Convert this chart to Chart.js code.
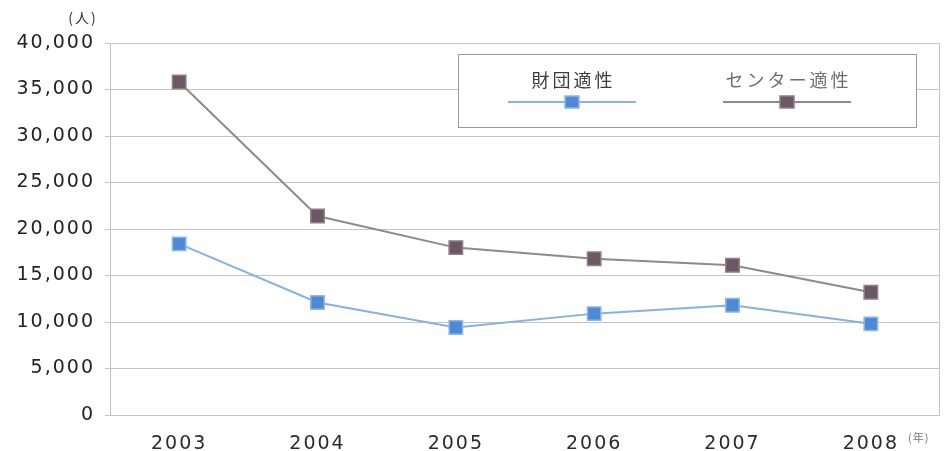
<!DOCTYPE html>
<html>
<head>
<meta charset="utf-8">
<script src="https://cdn.jsdelivr.net/npm/chart.js@4/dist/chart.umd.min.js"></script>
<style>
    body { margin: 0; background: #fff; }
    #chart-wrap { position: relative; width: 945px; height: 451px; }
</style>
</head>
<body>
<div id="chart-wrap">
    <canvas id="trend-chart" width="945" height="451"></canvas>
</div>
<script>
// 年度別の人数推移
const years = ['2003', '2004', '2005', '2006', '2007', '2008'];
const zaidanValues = [18400, 12100, 9400, 10900, 11800, 9800];
const centerValues = [35800, 21400, 18000, 16800, 16100, 13200];
const seriesNames = ['財団適性', 'センター適性'];
const yMax = 40000;
const yStep = 5000;

const BLUE_LINE = '#86b1e0';
const BLUE_MARK = '#4f88d4';
const GRAY_LINE = '#8e8a8c';
const GRAY_MARK = '#6c5865';
const NUM_FONT = "'DejaVu Sans', Verdana, sans-serif";
const JP_FONT = "'Noto Sans CJK JP', sans-serif";

// 横に広い文字組みにするため字間を少し空ける
const spacingPlugin = {
    id: 'spacing',
    beforeDraw(chart) {
        chart.ctx.letterSpacing = '2px';
    },
    afterDraw(chart) {
        chart.ctx.letterSpacing = '0px';
    }
};

function drawMarker(ctx, x, y, fill, stroke) {
    ctx.fillStyle = fill;
    ctx.strokeStyle = stroke;
    ctx.lineWidth = 1.5;
    ctx.fillRect(x - 7, y - 6, 14, 12);
    ctx.strokeRect(x - 7, y - 6, 14, 12);
}

// 枠・凡例・単位
const decorPlugin = {
    id: 'decor',
    beforeDatasetsDraw(chart) {
        const { ctx, chartArea } = chart;
        ctx.save();
        ctx.strokeStyle = '#c4c4c4';
        ctx.lineWidth = 1;
        ctx.strokeRect(chartArea.left + 0.5, chartArea.top + 0.5,
            chartArea.right - chartArea.left - 1, chartArea.bottom - chartArea.top);
        ctx.restore();
    },
    afterDraw(chart) {
        const { ctx, chartArea } = chart;
        ctx.save();

        // 凡例
        const bx = chartArea.right - 482;
        const by = chartArea.top + 11;
        ctx.fillStyle = '#fff';
        ctx.fillRect(bx, by, 458, 73);
        ctx.strokeStyle = '#9a9a9a';
        ctx.lineWidth = 1;
        ctx.strokeRect(bx + 0.5, by + 0.5, 458, 73);

        const entries = [
            { cx: bx + 114, line: BLUE_LINE, fill: BLUE_MARK, stroke: '#8bb8ea', text: '#3c3c3c' },
            { cx: bx + 329, line: GRAY_LINE, fill: GRAY_MARK, stroke: '#8f7f89', text: '#6e6e6e' }
        ];
        ctx.font = '18px ' + JP_FONT;
        ctx.textAlign = 'center';
        ctx.textBaseline = 'middle';
        ctx.letterSpacing = '3px';
        entries.forEach((e, i) => {
            ctx.fillStyle = e.text;
            ctx.fillText(seriesNames[i], e.cx + 1.5, by + 26);
            ctx.strokeStyle = e.line;
            ctx.lineWidth = 2;
            ctx.beginPath();
            ctx.moveTo(e.cx - 64, by + 48);
            ctx.lineTo(e.cx + 64, by + 48);
            ctx.stroke();
            drawMarker(ctx, e.cx, by + 48, e.fill, e.stroke);
        });

        // 単位
        ctx.letterSpacing = '2px';
        ctx.fillStyle = '#333';
        ctx.font = '14px ' + JP_FONT;
        ctx.textAlign = 'center';
        ctx.fillText('(人)', 83, 18);
        ctx.fillStyle = '#777';
        ctx.font = '11px ' + JP_FONT;
        ctx.textAlign = 'left';
        ctx.letterSpacing = '1px';
        ctx.fillText('(年)', chartArea.right - 32, 438);
        ctx.restore();
    }
};

new Chart(document.getElementById('trend-chart'), {
    type: 'line',
    data: {
        labels: years,
        datasets: [
            {
                label: seriesNames[0],
                data: zaidanValues,
                borderColor: BLUE_LINE,
                borderWidth: 2,
                pointStyle: 'rect',
                pointRadius: 9.5,
                pointBackgroundColor: BLUE_MARK,
                pointBorderColor: '#8bb8ea',
                pointBorderWidth: 1.5,
                tension: 0
            },
            {
                label: seriesNames[1],
                data: centerValues,
                borderColor: GRAY_LINE,
                borderWidth: 2,
                pointStyle: 'rect',
                pointRadius: 9.5,
                pointBackgroundColor: GRAY_MARK,
                pointBorderColor: '#8f7f89',
                pointBorderWidth: 1.5,
                tension: 0
            }
        ]
    },
    options: {
        responsive: false,
        animation: false,
        layout: {
            autoPadding: false,
            padding: { left: 0, right: 5, top: 43, bottom: 0 }
        },
        plugins: {
            legend: { display: false },
            tooltip: { enabled: false }
        },
        scales: {
            x: {
                offset: true,
                grid: { display: false },
                border: { display: false },
                ticks: {
                    color: '#2a2a2a',
                    font: { family: NUM_FONT, size: 19 },
                    padding: 10
                },
                afterFit(axis) {
                    axis.height = 36;
                    axis.paddingLeft = 0;
                    axis.paddingRight = 0;
                }
            },
            y: {
                min: 0,
                max: yMax,
                grid: {
                    color: '#c4c4c4',
                    lineWidth: 1,
                    tickLength: 5
                },
                border: { display: false },
                ticks: {
                    stepSize: yStep,
                    color: '#222',
                    font: { family: NUM_FONT, size: 19 },
                    padding: 10,
                    callback: v => v.toLocaleString('en-US')
                },
                afterFit(axis) { axis.width = 110; }
            }
        }
    },
    plugins: [spacingPlugin, decorPlugin]
});
</script>
</body>
</html>
